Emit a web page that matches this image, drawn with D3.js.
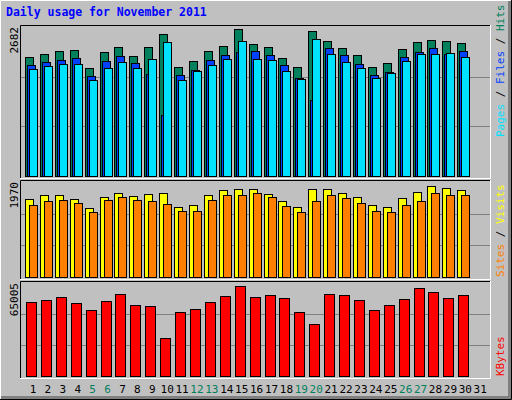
<!DOCTYPE html><html><head><script src="https://d3js.org/d3.v7.min.js"></script>
<style>body{margin:0;background:#fff}</style></head><body><svg id="c" width="512" height="400"></svg>
<script>
const days=d3.range(1,32);
const weekend=[5,6,12,13,19,20,26,27];
const hits=[2142,2196,2244,2262,1938,2226,2316,2154,2316,2550,1956,2064,2244,2334,2640,2370,2316,2118,1956,2604,2424,2298,2172,1956,2028,2280,2406,2442,2424,2388];
const files=[1993,2046,2082,2118,1794,2064,2154,2028,1830,1092,1812,1902,2082,2172,2226,2244,2172,1992,1758,1362,2298,2172,2010,1812,1866,2136,2226,2298,2190,2244];
const pages=[1920,1974,2016,2016,1722,1938,2046,1938,2100,2406,1722,1884,1992,2100,2424,2100,2082,1894,1740,2460,2190,2046,1938,1758,1848,2064,2190,2190,2208,2136];
const sites=[1618,1699,1699,1618,1435,1659,1740,1679,1719,1740,1456,1496,1699,1801,1821,1821,1719,1577,1456,1821,1821,1740,1659,1496,1456,1638,1760,1882,1841,1801];
const visits=[1496,1577,1598,1537,1354,1598,1659,1598,1577,1516,1374,1374,1598,1699,1699,1740,1659,1476,1354,1577,1699,1638,1537,1374,1354,1496,1577,1740,1699,1699];
const kbytes=[51780,53150,55200,51100,46300,52460,57250,49730,49040,26470,44940,46990,51780,55880,62720,55200,56570,54510,44940,36050,57250,56570,53150,46300,49730,53830,61350,58620,54510,56570];
const maxTop=2682,maxMid=1970,maxBot=65005;

const svg=d3.select('#c');
const F='DejaVu Sans Mono, monospace';
svg.append('rect').attr('width',512).attr('height',400).attr('fill','#c0c0c0');
// outer bevel
svg.append('path').attr('d','M0.5,399.5V0.5H511.5').attr('stroke','#fff').attr('fill','none');
svg.append('path').attr('d','M1,397.5H509.5V1').attr('stroke','#808080').attr('stroke-width',3).attr('fill','none');
svg.append('path').attr('d','M0,399.5H511.5V0').attr('stroke','#000').attr('fill','none');

const x=d3.scaleLinear().domain([1,30]).range([33,465.3]);
const X0=20,X1=490;
function panel(y0,y1,max){
  const y=d3.scaleLinear().domain([0,max]).range([y1,y0+2]);
  svg.append('rect').attr('x',X0).attr('y',y0).attr('width',X1-X0).attr('height',y1-y0+2).attr('fill','#c0c0c0');
  [1/3,2/3].forEach(f=>svg.append('line').attr('x1',X0).attr('x2',X1).attr('y1',Math.round(y(max*f))+.5).attr('y2',Math.round(y(max*f))+.5).attr('stroke','#808080'));
  svg.append('path').attr('d',`M${X0+.5},${y1+2}V${y0+.5}H${X1}`).attr('stroke','#000').attr('fill','none').attr('stroke-width',1);
  svg.append('path').attr('d',`M${X0},${y1+2.5}H${X1+.5}V${y0}`).attr('stroke','#fff').attr('fill','none').attr('stroke-width',1);
  return y;
}
function bars(data,y,off,w,color){
  svg.append('g').selectAll('rect').data(data).join('rect')
   .attr('x',(d,i)=>Math.round(x(i+1)+off)+.5).attr('width',w)
   .attr('y',d=>Math.round(y(d))+.5).attr('height',d=>y(0)-Math.round(y(d)))
   .attr('fill',color).attr('stroke','#000');
}
const yT=panel(25,176,maxTop);
bars(hits,yT,-8,8,'#00805c');
bars(files,yT,-6,8,'#0040ff');
bars(pages,yT,-4,8,'#00e0ff');
const yM=panel(180,277,maxMid);
bars(sites,yM,-8,8,'#ffff00');
bars(visits,yM,-4,8,'#ff8000');
const yB=panel(281,376,maxBot);
bars(kbytes,yB,-7,10,'#ff0000');

svg.append('text').attr('x',6).attr('y',16).attr('font-family',F).attr('font-weight','bold').attr('font-size',11.5).attr('fill','#0000ff').text('Daily usage for November 2011');
// day labels
svg.append('g').selectAll('text').data(days).join('text').attr('x',d=>x(d)).attr('y',393)
 .attr('text-anchor','middle').attr('font-family',F).attr('font-size',11)
 .attr('fill',d=>weekend.includes(d)?'#00805c':'#000').text(d=>d);
// left max labels
[[String(maxTop),25],[String(maxMid),180],[String(maxBot),281]].forEach(([t,yy])=>
 svg.append('text').attr('transform',`translate(18,${yy+2}) rotate(-90)`).attr('text-anchor','end')
  .attr('font-family',F).attr('font-size',11).attr('fill','#000').text(t));
// right labels
function rlabel(parts,yEnd){
  const t=svg.append('text').attr('transform',`translate(496,${yEnd}) rotate(90)`).attr('text-anchor','end')
   .attr('font-family',F).attr('font-size',11);
  parts.forEach(([s,c])=>t.append('tspan').attr('fill',c).text(s));
}
// rotated 90 reads top->bottom; reference reads bottom->top, so rotate -90
function rlabelUp(parts,yBottom){
  const t=svg.append('text').attr('transform',`translate(504,${yBottom}) rotate(-90)`)
   .attr('font-family',F).attr('font-size',11);
  parts.forEach(([s,c])=>t.append('tspan').attr('fill',c).text(s));
}
rlabelUp([['Pages','#00e0ff'],[' / ','#000'],['Files','#0040ff'],[' / ','#000'],['Hits','#00805c']],137);
rlabelUp([['Sites','#ff8000'],[' / ','#000'],['Visits','#ffff00']],277);
rlabelUp([['KBytes','#ff0000']],376);
</script></body></html>
